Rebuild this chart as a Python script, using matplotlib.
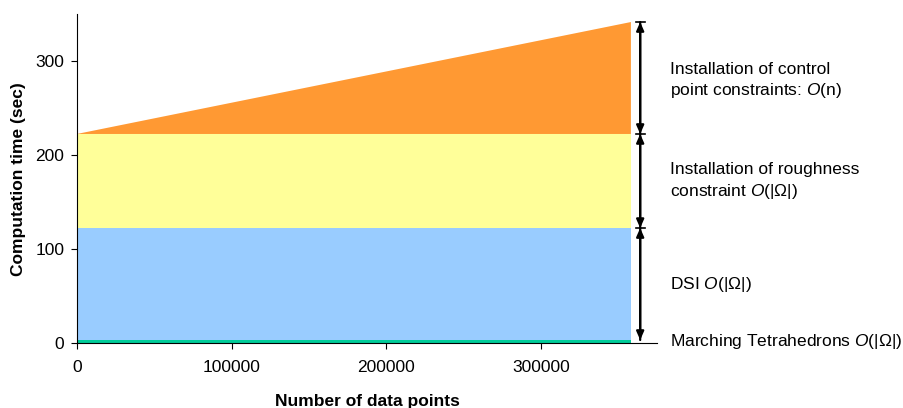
import matplotlib
matplotlib.use("Agg")
import matplotlib.pyplot as plt
import numpy as np

plt.rcParams['font.family'] = ['Liberation Sans', 'DejaVu Sans']
plt.rcParams['mathtext.fontset'] = 'custom'
plt.rcParams['mathtext.rm'] = 'Liberation Sans'
plt.rcParams['mathtext.it'] = 'Liberation Sans:italic'

# data
n_points = [0, 358000]
marching = [3.5, 3.5]
dsi = [119, 119]
roughness = [100, 100]
control = [0, 119]

layer_colors = ['#00CC99', '#99CCFF', '#FFFF99', '#FF9933']
labels = [r"Marching Tetrahedrons $\mathit{O}$(|Ω|)",
          r"DSI $\mathit{O}$(|Ω|)",
          "Installation of roughness\n" + r"constraint $\mathit{O}$(|Ω|)",
          "Installation of control\n" + r"point constraints: $\mathit{O}$(n)"]
xticks = [0, 100000, 200000, 300000]
yticks = [0, 100, 200, 300]

fig = plt.figure(figsize=(9.04, 4.08), dpi=100)
ax = fig.add_axes([0.085, 0.1586, 0.642, 0.807])

ax.stackplot(n_points, marching, dsi, roughness, control, colors=layer_colors, linewidth=0)

ax.set_xlim(0, 375000)
ax.set_ylim(0, 350)
ax.set_xticks(xticks)
ax.set_xticklabels([str(t) for t in xticks])
ax.set_yticks(yticks)
for s in ['top', 'right']:
    ax.spines[s].set_visible(False)
ax.spines['left'].set_linewidth(0.8)
ax.spines['bottom'].set_linewidth(0.8)
ax.tick_params(labelsize=12.5, length=4, width=0.8, direction='out')
ax.tick_params(axis='x', pad=8)
ax.tick_params(axis='y', pad=5)
ax.set_xlabel("Number of data points", fontsize=12.5, fontweight='bold', labelpad=14)
ax.set_ylabel("Computation time (sec)", fontsize=12.5, fontweight='bold', labelpad=7)

# boundaries for arrows
xa = 364000
b0 = marching[-1]
b1 = b0 + dsi[-1]
b2 = b1 + roughness[-1]
b3 = b2 + control[-1]
for lo, hi in [(b0, b1), (b1, b2), (b2, b3)]:
    ax.annotate('', xy=(xa, lo), xytext=(xa, hi),
                arrowprops=dict(arrowstyle='-|>,head_length=0.5,head_width=0.22',
                                color='black', lw=1.6, shrinkA=0, shrinkB=0),
                annotation_clip=False)
    ax.annotate('', xy=(xa, hi), xytext=(xa, lo),
                arrowprops=dict(arrowstyle='-|>,head_length=0.5,head_width=0.22',
                                color='black', lw=1.6, shrinkA=0, shrinkB=0),
                annotation_clip=False)
for yb in [b1, b2, b3]:
    ax.plot([xa - 2800, xa + 2800], [yb, yb], color='black', lw=1.2, clip_on=False)

xt = 383500
label_y = [1.5, 63, 172, 279]
for lab, yy in zip(labels, label_y):
    ax.text(xt, yy, lab, fontsize=12.5, va='center', ha='left', clip_on=False, linespacing=1.3)

fig.savefig("out.png", dpi=100)
